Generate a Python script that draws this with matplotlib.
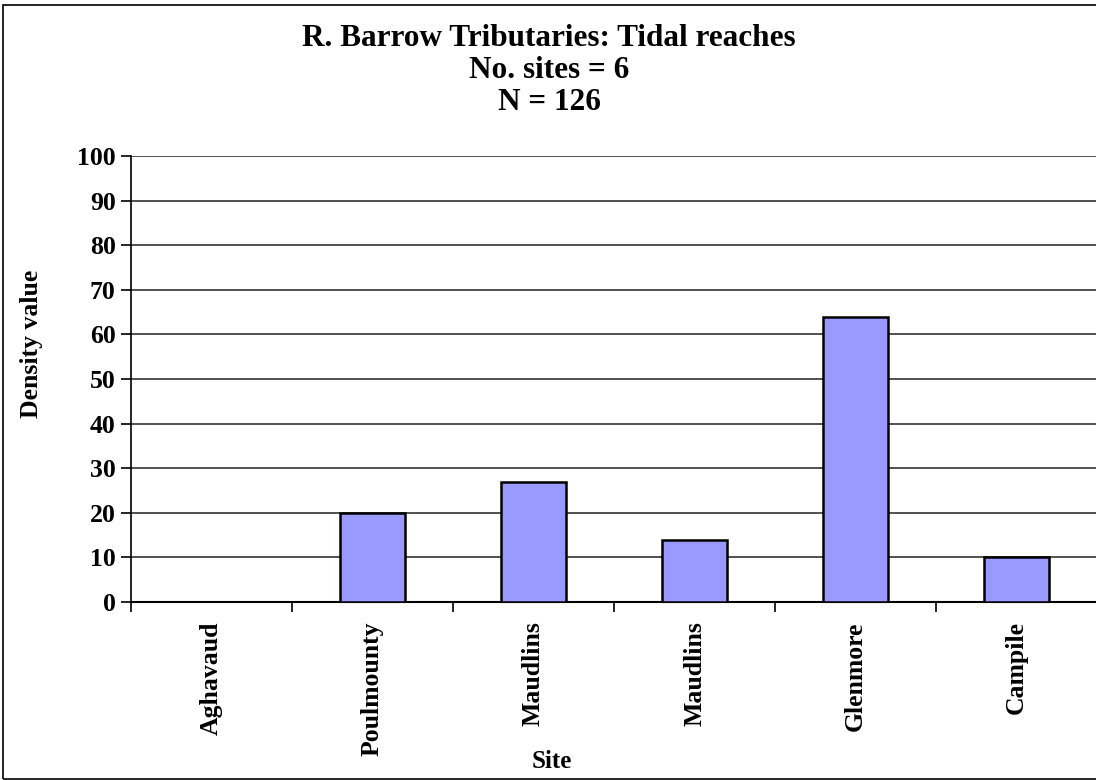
import matplotlib
matplotlib.use("Agg")
import matplotlib.pyplot as plt
from matplotlib.patches import Rectangle

# Data
sites = ["Aghavaud", "Poulmounty", "Maudlins", "Maudlins", "Glenmore", "Campile"]
density = [0, 20, 27, 14, 64, 10]
y_ticks = list(range(0, 101, 10))
title_lines = ["R. Barrow Tributaries: Tidal reaches", "No. sites = 6", "N = 126"]

plt.rcParams["font.family"] = ["Liberation Serif", "DejaVu Serif"]
plt.rcParams["font.weight"] = "bold"

W, H = 1096, 780
fig = plt.figure(figsize=(W / 100, H / 100), dpi=100)

# Outer chart border
fig.patches.append(Rectangle((3 / W, 1 / H), 1.2, (H - 6) / H, transform=fig.transFigure,
                             fill=False, edgecolor="black", linewidth=1.2))

ax = fig.add_axes([131 / W, 1 - 602 / H, (1097 - 131) / W, (602 - 156) / H])

x = list(range(len(sites)))
ax.bar(x, density, width=0.4, color="#9999FF", edgecolor="black", linewidth=1.8, zorder=3)

ax.set_xlim(-0.5, len(sites) - 0.5)
ax.set_ylim(0, 100)
ax.set_yticks(y_ticks)
ax.set_yticklabels([str(v) for v in y_ticks], fontsize=18.5, fontweight="bold")
ax.yaxis.grid(True, color="#333333", linewidth=1.2, zorder=0)
ax.set_axisbelow(True)

# Category boundaries carry the x ticks, labels sit at the centres
ax.set_xticks([i - 0.5 for i in range(len(sites) + 1)])
ax.set_xticklabels([])
ax.set_xticks(x, minor=True)
ax.set_xticklabels(sites, minor=True, rotation=90, fontsize=18.5, fontweight="bold", va="top")
ax.tick_params(axis="x", which="minor", length=0, pad=14)
ax.tick_params(axis="x", which="major", length=7, width=1.2, direction="out")
ax.tick_params(axis="y", length=7, width=1.2, direction="out", pad=4)

for side in ("top", "right"):
    ax.spines[side].set_visible(False)
ax.spines["left"].set_linewidth(1.2)
ax.spines["bottom"].set_linewidth(1.5)

for line, yy in zip(title_lines, [38, 70, 102]):
    fig.text(549 / W, 1 - yy / H, line, ha="center", va="center", fontsize=22.5, fontweight="bold")

fig.text(32 / W, 1 - 344 / H, "Density value", rotation=90, ha="center", va="center",
         fontsize=18.5, fontweight="bold")
fig.text(552 / W, 1 - 762 / H, "Site", ha="center", va="center", fontsize=18, fontweight="bold")

fig.savefig("out.png", dpi=100)
